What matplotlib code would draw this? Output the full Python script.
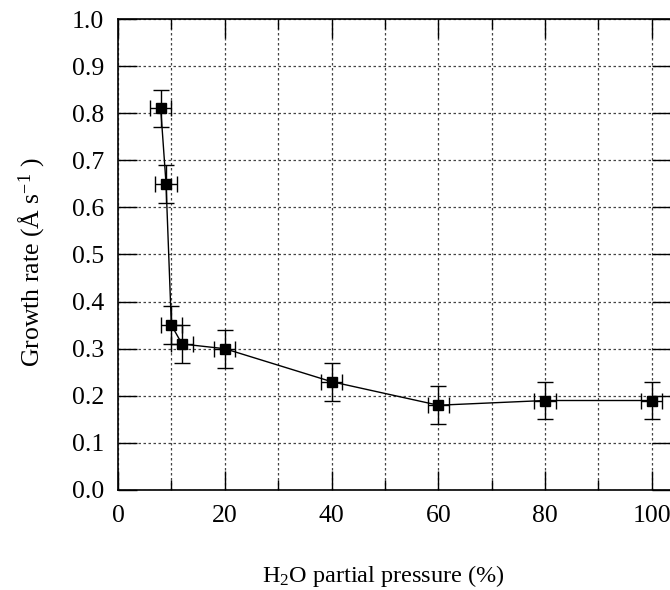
import matplotlib
matplotlib.use("Agg")
import matplotlib.pyplot as plt
from matplotlib.ticker import MultipleLocator

plt.rcParams['font.family'] = ['Liberation Serif', 'DejaVu Serif']
plt.rcParams['mathtext.fontset'] = 'custom'
plt.rcParams['mathtext.rm'] = 'Liberation Serif'
plt.rcParams['mathtext.it'] = 'Liberation Serif:italic'

# H2O partial pressure (%) and growth rate (Å/s)
pressure = [8, 9, 10, 12, 20, 40, 60, 80, 100]
growth = [0.81, 0.65, 0.35, 0.31, 0.30, 0.23, 0.18, 0.19, 0.19]
pressure_err = [2, 2, 2, 2, 2, 2, 2, 2, 2]
growth_err = [0.04, 0.04, 0.04, 0.04, 0.04, 0.04, 0.04, 0.04, 0.04]

fig = plt.figure(figsize=(6.7, 5.9), dpi=100)
ax = fig.add_axes([118 / 670, 1 - 490 / 590, (671 - 118) / 670, (490 - 19) / 590])

ax.errorbar(pressure, growth, xerr=pressure_err, yerr=growth_err,
            fmt='s-', color='black', ms=7.5, lw=1.0, elinewidth=1.0,
            capsize=6, capthick=1.0, zorder=3)

ax.set_xlim(0, 103.6)
ax.set_ylim(0, 1.0)
ax.xaxis.set_major_locator(MultipleLocator(20))
ax.xaxis.set_minor_locator(MultipleLocator(10))
ax.yaxis.set_major_locator(MultipleLocator(0.1))
ax.yaxis.set_major_formatter(plt.FuncFormatter(lambda v, p: f"{v:.1f}"))

ax.grid(True, which='both', axis='x', color='#444444', linestyle=(0, (2, 2)), lw=0.9)
ax.grid(True, which='major', axis='y', color='#444444', linestyle=(0, (2, 2)), lw=0.9)
ax.set_axisbelow(True)

ax.tick_params(which='major', direction='in', length=14, width=1.0,
               top=True, right=True, labelsize=18.5)
ax.tick_params(axis='y', which='major', pad=10)
ax.tick_params(axis='x', which='major', pad=11)
ax.tick_params(which='minor', direction='in', length=7, width=1.0,
               top=True, right=True)
for s in ax.spines.values():
    s.set_linewidth(1.2)

ax.set_xlabel(r"H$_2$O partial pressure (%)", fontsize=17.5)
ax.xaxis.set_label_coords(0.48, -0.155)
ax.set_ylabel(r"Growth rate (Å s$^{-1}$ )", fontsize=18.5)
ax.yaxis.set_label_coords(-0.128, 0.484)

fig.savefig("out.png", dpi=100)
